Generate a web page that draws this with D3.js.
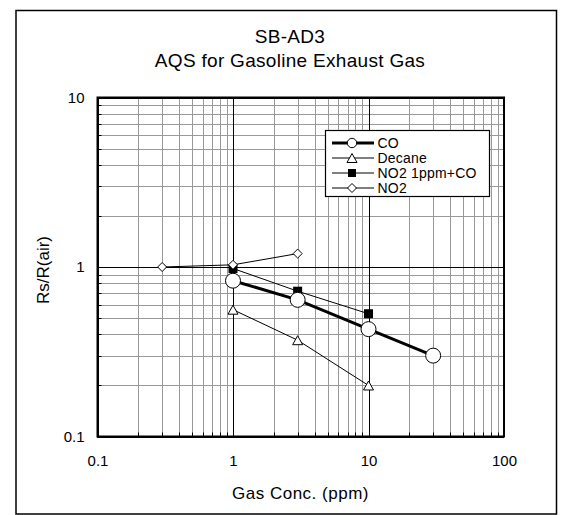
<!DOCTYPE html>
<html>
<head>
<meta charset="utf-8">
<script src="https://cdn.jsdelivr.net/npm/d3@7"></script>
<style>
  body { margin: 0; background: #fff; }
  svg { display: block; font-family: "Liberation Sans", Arial, sans-serif; }
</style>
</head>
<body>
<div id="chart"></div>
<script>
// data
const titleLines = ["SB-AD3", "AQS for Gasoline Exhaust Gas"];
const xTickValues = [0.1, 1, 10, 100];
const yTickValues = [0.1, 1, 10];

const coX = [1, 3, 10, 30];
const coY = [0.83, 0.64, 0.43, 0.30];
const decaneX = [1, 3, 10];
const decaneY = [0.56, 0.37, 0.20];
const no2coX = [1, 3, 10];
const no2coY = [0.98, 0.72, 0.53];
const no2X = [0.3, 1, 3];
const no2Y = [1.0, 1.03, 1.2];

const seriesNames = ["CO", "Decane", "NO2 1ppm+CO", "NO2"];

const W = 563, H = 515;
const plot = { left: 97.5, right: 504, top: 97.5, bottom: 436.5 };

const svg = d3.select("#chart").append("svg")
    .attr("width", W)
    .attr("height", H);

// outer frame
svg.append("rect")
    .attr("x", 16).attr("y", 10.5)
    .attr("width", 540.5).attr("height", 503.5)
    .attr("fill", "none").attr("stroke", "#000").attr("stroke-width", 1.5);

// titles
svg.selectAll(".title")
    .data(titleLines)
    .enter().append("text")
    .attr("class", "title")
    .attr("x", 290)
    .attr("y", (d, i) => 42.5 + i * 24)
    .attr("text-anchor", "middle")
    .style("font-size", "19px")
    .style("letter-spacing", "0.3px")
    .text(d => d);

const x = d3.scaleLog().domain([0.1, 100]).range([plot.left, plot.right]);
const y = d3.scaleLog().domain([0.1, 10]).range([plot.bottom, plot.top]);

// grid: minor lines first, decades on top
const xMinor = x.ticks().filter(v => !xTickValues.includes(v));
const yMinor = y.ticks().filter(v => !yTickValues.includes(v));

const grid = svg.append("g");
grid.selectAll(".vminor").data(xMinor).enter().append("line")
    .attr("x1", d => Math.round(x(d)) + 0.5).attr("x2", d => Math.round(x(d)) + 0.5)
    .attr("y1", plot.top).attr("y2", plot.bottom)
    .attr("stroke", "#999").attr("stroke-width", 1);
grid.selectAll(".hminor").data(yMinor).enter().append("line")
    .attr("y1", d => Math.round(y(d)) + 0.5).attr("y2", d => Math.round(y(d)) + 0.5)
    .attr("x1", plot.left).attr("x2", plot.right)
    .attr("stroke", "#999").attr("stroke-width", 1);
grid.selectAll(".vmajor").data(xTickValues).enter().append("line")
    .attr("x1", d => Math.round(x(d)) + 0.5).attr("x2", d => Math.round(x(d)) + 0.5)
    .attr("y1", plot.top).attr("y2", plot.bottom)
    .attr("stroke", "#000").attr("stroke-width", 1);
grid.selectAll(".hmajor").data(yTickValues).enter().append("line")
    .attr("y1", d => Math.round(y(d)) + 0.5).attr("y2", d => Math.round(y(d)) + 0.5)
    .attr("x1", plot.left).attr("x2", plot.right)
    .attr("stroke", "#000").attr("stroke-width", 1);

// inward tick marks on left and bottom
grid.selectAll(".xtick").data(x.ticks()).enter().append("line")
    .attr("x1", d => Math.round(x(d)) + 0.5).attr("x2", d => Math.round(x(d)) + 0.5)
    .attr("y1", plot.bottom).attr("y2", plot.bottom - 4)
    .attr("stroke", "#000");
grid.selectAll(".ytick").data(y.ticks()).enter().append("line")
    .attr("y1", d => Math.round(y(d)) + 0.5).attr("y2", d => Math.round(y(d)) + 0.5)
    .attr("x1", plot.left).attr("x2", plot.left + 4)
    .attr("stroke", "#000");

// plot frame
svg.append("rect")
    .attr("x", plot.left).attr("y", plot.top)
    .attr("width", plot.right - plot.left).attr("height", plot.bottom - plot.top)
    .attr("fill", "none").attr("stroke", "#000").attr("stroke-width", 2);

// axes labels
const fmt = d => d >= 1 ? String(d) : "0.1";
const xAxis = svg.append("g")
    .attr("transform", `translate(0,${plot.bottom})`)
    .call(d3.axisBottom(x).tickValues(xTickValues).tickFormat(fmt).tickSize(0).tickPadding(19));
const yAxis = svg.append("g")
    .attr("transform", `translate(${plot.left},0)`)
    .call(d3.axisLeft(y).tickValues(yTickValues).tickFormat(fmt).tickSize(0).tickPadding(13));
[xAxis, yAxis].forEach(a => {
    a.select(".domain").remove();
    a.selectAll("text")
        .attr("fill", "#000")
        .style("font-size", "15px")
        .style("font-family", "'Liberation Sans', Arial, sans-serif");
});

svg.append("text")
    .attr("x", 300.5).attr("y", 499)
    .attr("text-anchor", "middle")
    .style("font-size", "17px")
    .style("letter-spacing", "0.5px")
    .text("Gas Conc. (ppm)");

svg.append("text")
    .attr("transform", "translate(49,270) rotate(-90)")
    .attr("text-anchor", "middle")
    .style("font-size", "17px")
    .text("Rs/R(air)");

// markers
function drawMarker(g, type, cx, cy, big) {
    if (type === "circle") {
        g.append("circle").attr("cx", cx).attr("cy", cy).attr("r", big ? 7.5 : 4.7)
            .attr("fill", "#fff").attr("stroke", "#000").attr("stroke-width", 1);
    } else if (type === "triangle") {
        const w = 5, h = 9;
        g.append("path")
            .attr("d", `M${cx},${cy - h / 2}L${cx + w},${cy + h / 2}L${cx - w},${cy + h / 2}Z`)
            .attr("fill", "#fff").attr("stroke", "#000").attr("stroke-width", 1);
    } else if (type === "square") {
        const s = big ? 4.5 : 4;
        g.append("rect").attr("x", cx - s).attr("y", cy - s).attr("width", 2 * s).attr("height", 2 * s)
            .attr("fill", "#000");
    } else if (type === "diamond") {
        const s = 4.5;
        g.append("path")
            .attr("d", `M${cx},${cy - s}L${cx + s},${cy}L${cx},${cy + s}L${cx - s},${cy}Z`)
            .attr("fill", "#fff").attr("stroke", "#000").attr("stroke-width", 1);
    }
}

const series = [
    { name: seriesNames[1], xs: decaneX, ys: decaneY, width: 1, marker: "triangle" },
    { name: seriesNames[2], xs: no2coX, ys: no2coY, width: 1, marker: "square" },
    { name: seriesNames[0], xs: coX, ys: coY, width: 3, marker: "circle" },
    { name: seriesNames[3], xs: no2X, ys: no2Y, width: 1, marker: "diamond" }
];

const line = d3.line().x(d => x(d[0])).y(d => y(d[1]));
const marks = svg.append("g");
series.forEach(s => {
    const pts = s.xs.map((v, i) => [v, s.ys[i]]);
    marks.append("path")
        .datum(pts)
        .attr("d", line)
        .attr("fill", "none")
        .attr("stroke", "#000")
        .attr("stroke-width", s.width);
});
series.forEach(s => {
    s.xs.forEach((v, i) => drawMarker(marks, s.marker, x(v), y(s.ys[i]), true));
});

// legend
const legendOrder = [series[2], series[0], series[1], series[3]];
const lg = svg.append("g");
lg.append("rect")
    .attr("x", 325.5).attr("y", 130.5)
    .attr("width", 164).attr("height", 66)
    .attr("fill", "#fff").attr("stroke", "#000").attr("stroke-width", 1.2);
legendOrder.forEach((s, i) => {
    const cy = 143 + i * 15;
    lg.append("line")
        .attr("x1", 332).attr("x2", 374)
        .attr("y1", cy).attr("y2", cy)
        .attr("stroke", "#000").attr("stroke-width", s.width);
    drawMarker(lg, s.marker, 352, cy, false);
    lg.append("text")
        .attr("x", 377.5).attr("y", cy + 5)
        .style("font-size", "14px")
        .style("letter-spacing", "0.2px")
        .text(s.name);
});
</script>
</body>
</html>
